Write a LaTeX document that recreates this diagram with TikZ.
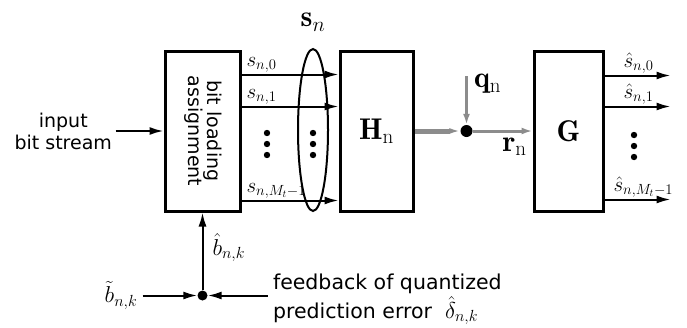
\documentclass[tikz,border=0pt]{standalone}
\usepackage{fix-cm}
\usepackage{amsmath}
\usepackage{fontspec}
\setsansfont{DejaVu Sans}
\usetikzlibrary{arrows.meta, positioning, calc}

\begin{document}
\begin{tikzpicture}[
  x=1pt, y=-1pt,
  block/.style={draw, line width=3pt, minimum height=160pt, inner sep=0pt,
                font=\fontsize{30}{32}\selectfont},
  arrow/.style={-{Latex[length=14pt,width=8pt]}, line width=2pt},
  gthick/.style={-{Latex[length=11pt,width=6pt]}, line width=5pt, draw=gray!90, color=gray!90},
  gthin/.style={-{Latex[length=11pt,width=7pt]}, line width=3pt, draw=gray!90, color=gray!90},
  lbl/.style={font=\sffamily\fontsize{19}{22}\selectfont, align=center},
  math/.style={font=\fontsize{23}{25}\selectfont, inner sep=1pt},
  smath/.style={font=\fontsize{21}{23}\selectfont, inner sep=1pt},
  bigmath/.style={font=\fontsize{30}{32}\selectfont},
  dot/.style={circle, fill, inner sep=0pt, minimum size=#1}
]
\useasboundingbox (0,0) rectangle (687,327);

% blocks
\node[block, minimum width=75pt] (bla) at (202.5,131)
  {\sffamily\fontsize{19}{22}\selectfont
   \rotatebox[origin=c]{-90}{\begin{tabular}{@{}c@{}}bit loading\\[-3pt]assignment\end{tabular}}};
\node[block, minimum width=73pt, right=97pt of bla] (H) {$\mathbf{H}_\mathrm{n}$};
\node[block, minimum width=69pt, right=118pt of H] (G) {$\mathbf{G}$};

% stream grouping
\draw[line width=2pt] (313,130) ellipse [x radius=15, y radius=81];
\node[bigmath] (sn) at (313,22) {$\mathbf{s}_n$};

% input
\node[lbl, left=48pt of bla] (input) {input\\bit stream};
\draw[arrow] (input.east) -- (bla.west);

% parallel streams
\foreach \dy/\name in {25/{s_{n,0}}, 57/{s_{n,1}}, 151/{s_{n,M_t{-}1}}}
  \draw[arrow] ($(bla.north east)+(0,\dy)$) -- node[smath, anchor=south west, pos=0, xshift=3pt] {$\name$} ($(H.north west)+(0,\dy)$);
\foreach \dy/\name/\sh in {26/{\hat{s}_{n,0}}/17, 57/{\hat{s}_{n,1}}/17, 150/{\hat{s}_{n,M_t{-}1}}/7}
  \draw[arrow] ($(G.north east)+(0,\dy)$) -- node[smath, anchor=south west, pos=0, xshift=\sh pt] {$\name$} ++(66,0);
\foreach \x/\y in {267/133, 313/133, 634/135} {
  \fill (\x,\y) circle (3.2);
  \fill (\x,\y+11) circle (3.2);
  \fill (\x,\y+22) circle (3.2);
}

% channel output plus noise
\node[dot=12pt] (mix) at ($(H.east)+(52,0)$) {};
\coordinate (qin) at ($(mix)+(0,-55)$);
\draw[gthin] (qin) -- (mix.north);
\node[bigmath, right=4pt of qin, yshift=-8pt] (qn) {$\mathbf{q}_\mathrm{n}$};
\draw[gthick] (H.east) -- (mix.west);
\draw[gthin] (mix.east) -- node[bigmath, below, pos=0.7, yshift=-2pt, black] {$\mathbf{r}_\mathrm{n}$} (G.west);

% feedback
\node[dot=10pt] (fb) at ($(bla.south)+(0,83)$) {};
\coordinate (fbl) at ($(fb)+(-60,0)$);
\coordinate (fbr) at ($(fb)+(65,0)$);
\draw[arrow] (fbl) -- (fb);
\draw[arrow] (fbr) -- (fb);
\draw[arrow] (fb) -- node[math, right, pos=0.55, xshift=8pt] {$\hat{b}_{n,k}$} (bla.south);
\node[math, left=4pt of fbl] (btilde) {$\tilde{b}_{n,k}$};
\node[lbl, font=\sffamily\fontsize{20.5}{23}\selectfont, align=left, anchor=west,
      right=2pt of fbr, yshift=-4pt] (fbtext)
  {feedback of quantized\\[1pt]prediction error \ \fontsize{23}{25}\selectfont$\hat{\delta}_{n,k}$};

\end{tikzpicture}
\end{document}
